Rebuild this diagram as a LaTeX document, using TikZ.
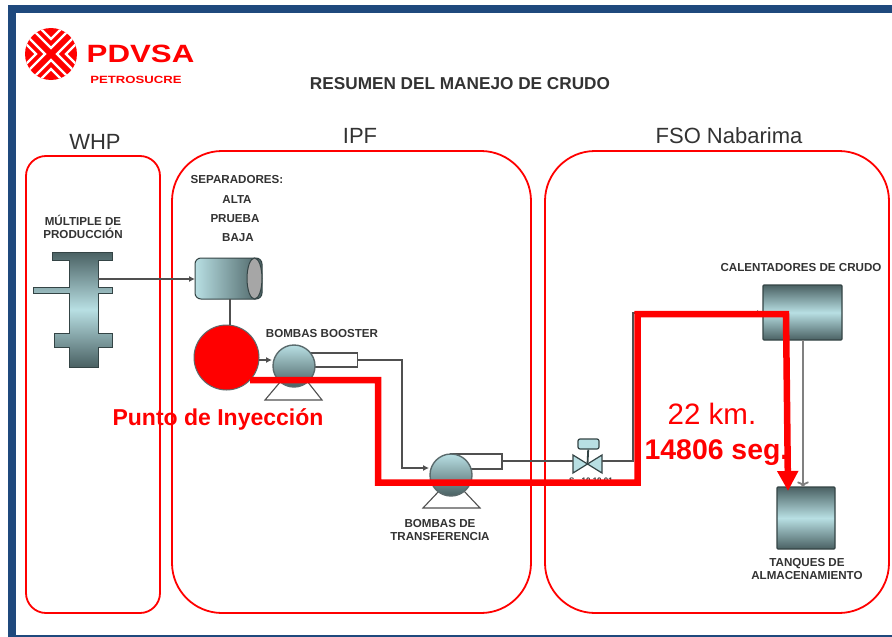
\documentclass[tikz,border=0pt]{standalone}
\usepackage{fontspec}
\setmainfont{Liberation Sans}
\usetikzlibrary{arrows.meta,shapes.geometric}
\definecolor{framecol}{HTML}{1F497D}
\definecolor{steeldark}{HTML}{4A6163}
\definecolor{steellight}{HTML}{B8DFE3}
\definecolor{labelcol}{HTML}{333333}
\definecolor{pipecol}{HTML}{505050}
\tikzset{
  zonebox/.style={draw=red, line width=1.8, fill=white},
  zonelabel/.style={text=labelcol, font=\fontsize{22}{24}\selectfont},
  tag/.style={text=labelcol, font=\fontsize{11.6}{13}\selectfont\bfseries, align=center, inner sep=0},
  redtag/.style={text=red, inner sep=0},
  vessel/.style={draw=steeldark!70!black, line width=1.2, rounded corners=1, shade, top color=steeldark, bottom color=steeldark, middle color=steellight, inner sep=0},
  pump/.style={circle, draw=steeldark!70!gray, line width=1.4, shade, top color=steellight, bottom color=steeldark, inner sep=0, minimum size=42},
  pipe/.style={draw=pipecol, line width=1.1, -{Latex[length=6,width=6]}},
  plainpipe/.style={draw=pipecol, line width=1.1},
  housing/.style={draw=pipecol, line width=1.1, fill=white}
}
\begin{document}
\begin{tikzpicture}[x=1pt, y=-1pt]
\useasboundingbox (0,0) rectangle (892,637);
% slide frame
\fill[framecol] (8,5) rectangle (892,637);
\fill[white] (16,13) rectangle (892,635);

% logo
\begin{scope}[shift={(51,54)}]
\fill[red] (0,0) circle (26);
\clip (0,0) circle (26);
\foreach \turn in {0,90,180,270} {
  \begin{scope}[rotate=\turn]
  \draw[white, line width=2.2] (-30,-36) -- (0,-6) -- (30,-36);
  \draw[white, line width=2.2] (-30,-45) -- (0,-15) -- (30,-45);
  \end{scope}
}
\end{scope}
\node[redtag, font=\fontsize{25}{28}\selectfont\bfseries] (pdvsa) at (140.5,54) {\scalebox{1.25}[1]{PDVSA}};
\node[redtag, font=\fontsize{10.5}{12}\selectfont\bfseries] (petrosucre) at (136,80) {\scalebox{1.25}[1]{PETROSUCRE}};
\node[tag, font=\fontsize{17.2}{20}\selectfont\bfseries] (titulo) at (460,83.5) {RESUMEN DEL MANEJO DE CRUDO};

% zones
\node[zonebox, rounded corners=20, minimum width=134, minimum height=457] (whp) at (93,384.5) {};
\node[zonebox, rounded corners=50, minimum width=359, minimum height=462] (ipf) at (351.5,382) {};
\node[zonebox, rounded corners=50, minimum width=344, minimum height=462] (fso) at (717,382) {};
\node[zonelabel] (whplabel) at (95,142) {WHP};
\node[zonelabel] (ipflabel) at (360,136) {IPF};
\node[zonelabel] (fsolabel) at (729,136) {FSO Nabarima};

% labels
\node[tag] (multiple) at (83,226.5) {MÚLTIPLE DE\\PRODUCCIÓN};
\node[tag] (separadores) at (237,180) {SEPARADORES:};
\node[tag] (alta) at (237,200) {ALTA};
\node[tag] (prueba) at (235,219) {PRUEBA};
\node[tag] (baja) at (238,238) {BAJA};
\node[tag] (booster) at (322,334) {BOMBAS BOOSTER};
\node[tag] (transfer) at (440,530.5) {BOMBAS DE\\TRANSFERENCIA};
\node[tag] (calentlabel) at (801,268) {CALENTADORES DE CRUDO};
\node[tag] (tanqlabel) at (807,569.5) {TANQUES DE\\ALMACENAMIENTO};

% manifold
\shade[top color=steeldark, bottom color=steeldark, middle color=steellight, draw=steeldark!70!black, line width=1]
  (52,252) -- (112,252) -- (112,260) -- (98,260) -- (98,287) -- (112,287) -- (112,293) -- (98,293)
  -- (98,333) -- (112,333) -- (112,347) -- (98,347) -- (98,367) -- (69,367) -- (69,347) -- (54,347)
  -- (54,333) -- (69,333) -- (69,293) -- (33,293) -- (33,287) -- (69,287) -- (69,260) -- (52,260) -- cycle;
\coordinate (manifoldout) at (98,279);

% separator
\node[draw=steeldark!70!black, line width=1, rounded corners=6, shade, left color=steellight, right color=steeldark, minimum width=67, minimum height=41, inner sep=0] (separador) at (228.5,278.5) {};
\node[draw=steeldark!70!black, line width=1, ellipse, fill=gray!70, minimum width=15, minimum height=41, inner sep=0] (sepcap) at (254.5,278.5) {};

% injection point
\node[circle, draw=steeldark!70!gray, line width=1, fill=red, minimum size=65, inner sep=0] (inyeccion) at (226.5,357.5) {};

% booster pump
\node[housing, minimum width=63, minimum height=14, inner sep=0] (boosterout) at (326,360) {};
\draw[housing] (265,400) -- (281,381) -- (307,381) -- (322,400) -- cycle;
\node[pump] (bomba1) at (294,366) {};

% transfer pump
\node[housing, minimum width=51, minimum height=15, inner sep=0] (transferout) at (476.5,461.5) {};
\draw[housing] (423,508) -- (440,490) -- (463,490) -- (480,508) -- cycle;
\node[pump] (bomba2) at (451,475) {};

% valve
\draw[draw=steeldark!70!black, line width=1.2, fill=steellight] (573,455) -- (602,473) -- (602,455) -- (573,473) -- cycle;
\node[inner sep=0, minimum size=1] (valvula) at (587.5,464) {};
\node[draw=steeldark!70!black, line width=1.2, fill=steellight, rounded corners=2, minimum width=21, minimum height=10, inner sep=0] (actuador) at (588.5,444) {};
\draw[draw=steeldark!70!black, line width=1.8] (actuador) -- (valvula);
\coordinate (valvein) at (573,461);
\coordinate (valveout) at (602,461);
\node[text=labelcol, font=\fontsize{8}{10}\selectfont\bfseries, inner sep=0] (valvetag) at (591,481) {S - 10 10 01};

% heater and tanks
\node[vessel, minimum width=79, minimum height=55] (calentador) at (802.5,312.5) {};
\node[vessel, minimum width=58, minimum height=62] (tanque) at (806,518) {};

% piping
\coordinate (sepdown) at (230,299);
\coordinate (circleup) at (230,325);
\path (sepdown) edge [plainpipe, line width=1.4] (circleup);
\coordinate (sepin) at (195,279);
\path (manifoldout) edge [pipe] (sepin);
\coordinate (pumpin) at (272,360);
\coordinate (circleout) at (259,360);
\path (circleout) edge [pipe] (pumpin);
\coordinate (boosterend) at (357.5,360);
\coordinate (transferin) at (429,468);
\draw[pipe] (boosterend) -- (402,360) -- (402,468) -- (transferin);
\coordinate (transferend) at (502,461);
\path (transferend) edge [plainpipe] (valvein);
\coordinate (heaterin) at (763,313);
\draw[pipe] (valveout) -- (633,461) -- (633,313) -- (heaterin);
\coordinate (heaterout) at (803,340);
\coordinate (tankin) at (803,487);
\path (heaterout) edge [draw=gray, line width=1.8, ->] (tankin);

% red route
\coordinate (rutaini) at (250,380);
\coordinate (rutafin) at (788,491);
\draw[red, line width=6.5, -{Triangle[length=20,width=20]}] (rutaini) -- (378,380) -- (378,482.5) -- (637.5,482.5) -- (637.5,314) -- (786,314) -- (rutafin);

\node[redtag, font=\fontsize{23}{26}\selectfont\bfseries] (punto) at (218,419) {Punto de Inyección};
\node[redtag, font=\fontsize{29.5}{32}\selectfont] (km) at (712,414) {22 km.};
\node[redtag, font=\fontsize{28.4}{32}\selectfont\bfseries] (seg) at (716.5,453) {14806 seg.};
\end{tikzpicture}
\end{document}
